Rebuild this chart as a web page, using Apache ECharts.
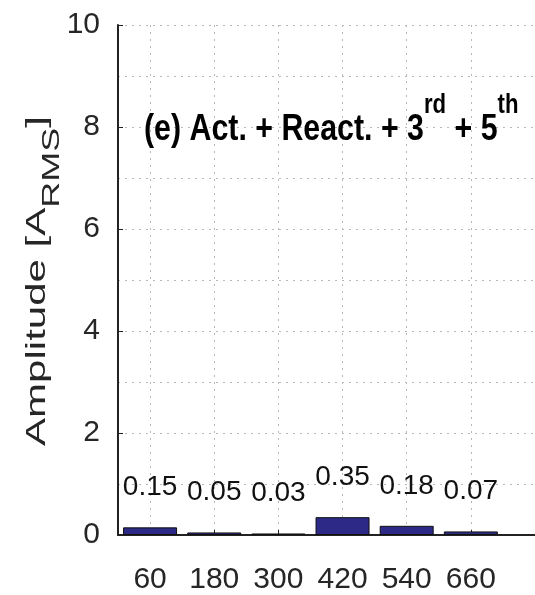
<!DOCTYPE html>
<html>
<head>
<meta charset="utf-8">
<script src="https://cdn.jsdelivr.net/npm/echarts@6/dist/echarts.min.js"></script>
<style>
  html, body { margin: 0; padding: 0; background: #fff; }
  #main { width: 535px; height: 595px; }
</style>
</head>
<body>
<div id="main"></div>
<script>
// harmonic frequencies (Hz) and measured amplitudes (A rms)
var freqs = [60, 180, 300, 420, 540, 660];
var amps = [0.15, 0.05, 0.03, 0.35, 0.18, 0.07];

var font = 'Liberation Sans, Arial, sans-serif';
var grid = '#b8b8b8';

var chart = echarts.init(document.getElementById('main'));
chart.setOption({
    animation: false,
    backgroundColor: '#fff',
    graphic: [
        // panel caption, squeezed horizontally like the original figure
        {
            type: 'text',
            x: 144,
            y: 130,
            scaleX: 0.82,
            z: 100,
            style: {
                text: '{m|(e) Act. + React. + 3}{s|rd}{m| + 5}{s|th}',
                align: 'left',
                verticalAlign: 'middle',
                rich: {
                    m: { fontFamily: font, fontWeight: 'bold', fontSize: 37, fill: '#000' },
                    s: { fontFamily: font, fontWeight: 'bold', fontSize: 27, fill: '#000', verticalAlign: 'top', padding: [0, 0, 48, 0] }
                }
            }
        },
        // y axis title, stretched along its length
        {
            type: 'text',
            x: 37,
            y: 281,
            rotation: Math.PI / 2,
            scaleX: 1.5,
            style: {
                text: '{a|Amplitude [A}{b|RMS}{a|]}',
                align: 'center',
                verticalAlign: 'middle',
                rich: {
                    a: { fontFamily: font, fontSize: 28, fill: '#262626' },
                    b: { fontFamily: font, fontSize: 24, fill: '#262626', verticalAlign: 'bottom', padding: [30, 0, 0, 0] }
                }
            }
        }
    ],
    grid: {
        left: 118,
        right: -23,
        top: 25,
        bottom: 58
    },
    xAxis: {
        type: 'value',
        min: 0,
        max: 780,
        interval: 60,
        axisLine: { show: true, onZero: false, lineStyle: { color: '#222', width: 2 } },
        axisTick: { show: true, inside: true, length: 5, customValues: freqs, lineStyle: { color: '#222' } },
        axisLabel: {
            customValues: freqs,
            margin: 30,
            fontFamily: font,
            fontSize: 30,
            color: '#262626'
        },
        splitLine: { show: true, lineStyle: { type: [2, 5], color: grid, width: 1 } }
    },
    yAxis: {
        type: 'value',
        min: 0,
        max: 10,
        interval: 2,
        axisLine: { show: true, lineStyle: { color: '#222', width: 2 } },
        axisTick: { show: true, inside: true, length: 5, lineStyle: { color: '#222' } },
        axisLabel: {
            margin: 18,
            fontFamily: font,
            fontSize: 30,
            color: '#262626'
        },
        splitLine: { show: true, lineStyle: { type: [2, 5], color: grid, width: 1 } },
        minorTick: { show: false, splitNumber: 2 },
        minorSplitLine: { show: true, lineStyle: { type: [2, 5], color: grid, width: 1 } }
    },
    series: [{
        type: 'bar',
        barWidth: 54,
        data: freqs.map(function (f, i) { return [f, amps[i]]; }),
        itemStyle: { color: '#2c2a86', borderColor: '#111', borderWidth: 1 },
        label: {
            show: true,
            position: 'top',
            distance: 26,
            fontFamily: font,
            fontSize: 28,
            color: '#111',
            formatter: function (p) { return p.value[1].toFixed(2); }
        }
    }]
});
</script>
</body>
</html>
